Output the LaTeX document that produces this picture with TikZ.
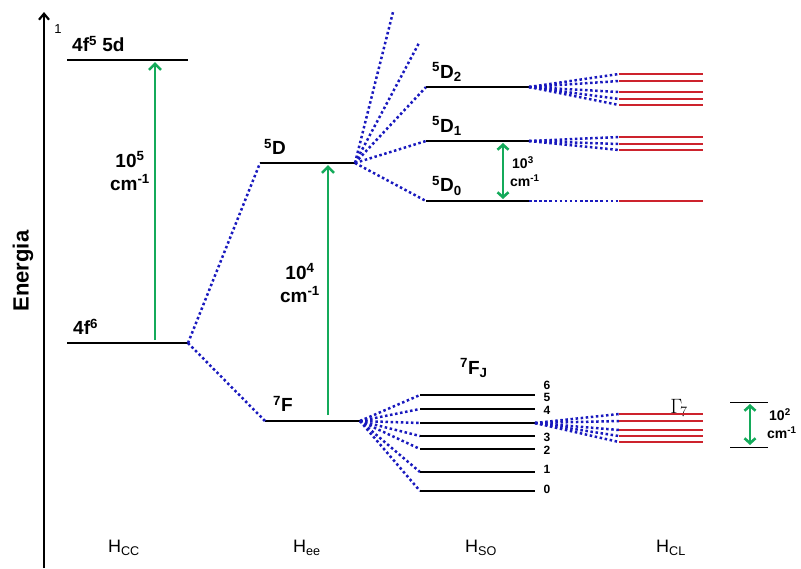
\documentclass[tikz,border=0pt]{standalone}
\usepackage{fontspec}
\setmainfont{Liberation Sans}
\usetikzlibrary{arrows.meta}
\definecolor{lvgreen}{RGB}{20,170,90}
\definecolor{lvblue}{RGB}{25,25,190}
\definecolor{lvred}{RGB}{205,35,45}
\begin{document}
\begin{tikzpicture}[x=1pt,y=-1pt,
  level/.style={line width=2.7pt,black},
  redlev/.style={line width=2.8pt,lvred},
  conn/.style={line width=2.5pt,lvblue,dash pattern=on 2.5pt off 2.6pt},
  garrow/.style={line width=2.6pt,lvgreen,-{Straight Barb[length=6pt,width=12pt,line width=2.6pt]}},
  gdarrow/.style={line width=2.6pt,lvgreen,{Straight Barb[length=5pt,width=11pt,line width=2.6pt]}-{Straight Barb[length=5pt,width=11pt,line width=2.6pt]}},
  lab/.style={inner sep=0pt,font=\fontsize{19}{23}\selectfont\bfseries},
  slab/.style={inner sep=0pt,font=\fontsize{14}{18}\selectfont\bfseries,align=left},
  nlab/.style={inner sep=0pt,font=\fontsize{12}{14}\selectfont\bfseries},
  hlab/.style={inner sep=0pt,font=\fontsize{18}{21}\selectfont}]
\useasboundingbox (0,0) rectangle (801,568);
% axis
\coordinate (axb) at (44,568);
\coordinate (axt) at (44,12);
\draw[line width=2.2pt,-{Straight Barb[length=6pt,width=10pt,line width=2.2pt]}] (axb) -- (axt);
\node[inner sep=0pt,font=\fontsize{13}{15}\selectfont] (one) at (58,29) {1};
\node[lab,rotate=90,font=\fontsize{22}{26}\selectfont\bfseries] (energia) at (23,271) {Energia};
% H_CC column
\coordinate (a1) at (67,60); \coordinate (a2) at (188,60);
\coordinate (b1) at (67,343); \coordinate (b2) at (188,343);
\draw[level] (a1) -- (a2);
\draw[level] (b1) -- (b2);
\node[lab,anchor=west] (l5d) at (72,44) {4f\textsuperscript{5} 5d};
\node[lab,anchor=west] (l4f6) at (73,327) {4f\textsuperscript{6}};
\coordinate (g1s) at (155,340); \coordinate (g1e) at (155,62);
\draw[garrow] (g1s) -- (g1e);
\node[lab,align=center] (e5) at (130,171) {10\textsuperscript{5}\\cm\textsuperscript{-1}};
% H_ee column
\coordinate (d1) at (260,163); \coordinate (d2) at (355,163);
\coordinate (f1) at (265,421); \coordinate (f2) at (360,421);
\draw[level] (d1) -- (d2);
\draw[level] (f1) -- (f2);
\node[lab,anchor=west] (l5D) at (264,147) {\textsuperscript{5}D};
\node[lab,anchor=west] (l7F) at (273,404) {\textsuperscript{7}F};
\coordinate (g2s) at (328,415); \coordinate (g2e) at (328,165);
\draw[garrow] (g2s) -- (g2e);
\node[lab,align=center] (e4) at (300,283) {10\textsuperscript{4}\\cm\textsuperscript{-1}};
\draw[conn] (b2) -- (d1);
\draw[conn] (b2) -- (f1);
% 5D multiplets
\coordinate (u1) at (393,12); \coordinate (u2) at (419,43);
\coordinate (p1) at (426,87);  \coordinate (p2) at (529,87);
\coordinate (q1) at (426,141); \coordinate (q2) at (529,141);
\coordinate (r1) at (426,201); \coordinate (r2) at (529,201);
\foreach \t in {u1,u2,p1,q1,r1} \draw[conn] (d2) -- (\t);
\draw[level] (p1) -- (p2);
\draw[level] (q1) -- (q2);
\draw[level] (r1) -- (r2);
\node[lab,anchor=west] (l5D2) at (432,72) {\textsuperscript{5}D\textsubscript{2}};
\node[lab,anchor=west] (l5D1) at (432,126) {\textsuperscript{5}D\textsubscript{1}};
\node[lab,anchor=west] (l5D0) at (432,186) {\textsuperscript{5}D\textsubscript{0}};
\coordinate (g3s) at (503,143); \coordinate (g3e) at (503,199);
\draw[gdarrow] (g3s) -- (g3e);
\node[slab,anchor=west] (e3) at (510,172) {\hspace*{2pt}10\textsuperscript{3}\\cm\textsuperscript{-1}};
% crystal field of 5D
\foreach \y [count=\i] in {74,81,92,99,105} {
  \coordinate (pr\i) at (619,\y); \coordinate (ps\i) at (703,\y);
  \draw[conn] (p2) -- (pr\i);
  \draw[redlev] (pr\i) -- (ps\i);
}
\foreach \y [count=\i] in {137,144,150} {
  \coordinate (qr\i) at (619,\y); \coordinate (qs\i) at (703,\y);
  \draw[conn] (q2) -- (qr\i);
  \draw[redlev] (qr\i) -- (qs\i);
}
\coordinate (rr1) at (619,201); \coordinate (rs1) at (703,201);
\draw[conn] (r2) -- (rr1);
\draw[redlev] (rr1) -- (rs1);
% 7F_J
\node[lab,anchor=west] (l7FJ) at (460,368) {\textsuperscript{7}F\textsubscript{J}};
\foreach \y/\j in {395/6,409/5,423/4,436/3,449/2,472/1,491/0} {
  \coordinate (j\j a) at (420,\y); \coordinate (j\j b) at (535,\y);
  \draw[conn] (f2) -- (j\j a);
  \draw[level] (j\j a) -- (j\j b);
}
\node[nlab] (n6) at (547,385) {6};
\node[nlab] (n5) at (547,397) {5};
\node[nlab] (n4) at (547,410) {4};
\node[nlab] (n3) at (547,437) {3};
\node[nlab] (n2) at (547,450) {2};
\node[nlab] (n1) at (547,469) {1};
\node[nlab] (n0) at (547,489) {0};
% crystal field of 7F
\node[inner sep=0pt,font=\fontsize{20}{24}\selectfont] (gam) at (679,408) {$\Gamma_{\!7}$};
\foreach \y [count=\i] in {414,421,430,436,442} {
  \coordinate (fr\i) at (619,\y); \coordinate (fs\i) at (703,\y);
  \draw[conn] (j4b) -- (fr\i);
  \draw[redlev] (fr\i) -- (fs\i);
}
% 10^2 bracket
\coordinate (k1) at (730,402); \coordinate (k2) at (768,402);
\coordinate (k3) at (730,447); \coordinate (k4) at (768,447);
\draw[line width=1pt] (k1) -- (k2);
\draw[line width=1pt] (k3) -- (k4);
\coordinate (g4s) at (750,404); \coordinate (g4e) at (750,445);
\draw[gdarrow] (g4s) -- (g4e);
\node[slab,anchor=west] (e2) at (767,424) {\hspace*{2pt}10\textsuperscript{2}\\cm\textsuperscript{-1}};
% Hamiltonians
\node[hlab] (hcc) at (124,548) {H\textsubscript{CC}};
\node[hlab] (hee) at (307,548) {H\textsubscript{ee}};
\node[hlab] (hso) at (481,548) {H\textsubscript{SO}};
\node[hlab] (hcl) at (671,548) {H\textsubscript{CL}};
\end{tikzpicture}
\end{document}
